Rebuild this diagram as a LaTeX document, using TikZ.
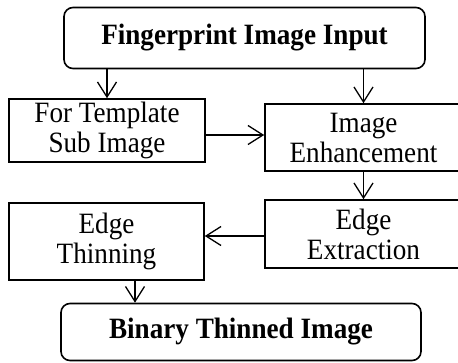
\documentclass[tikz,border=0pt]{standalone}
\usepackage{fontspec}
\setmainfont[FakeStretch=0.92]{Liberation Serif}
\usetikzlibrary{arrows.meta}

\begin{document}
\begin{tikzpicture}[x=1pt, y=-1pt,
    every node/.style={draw, line width=1.6pt, align=center, inner sep=2pt,
        font=\fontsize{29.5}{30}\selectfont},
    endbox/.style={rounded corners=9pt, font=\fontsize{29.5}{30}\selectfont\bfseries},
    flow/.style={-{Straight Barb[length=15pt, width=19pt, line width=1.3pt]}, line width=1.3pt}]
    \useasboundingbox (0,0) rectangle (458,362);
    \clip (0,0) rectangle (458,362);

    \node[endbox, minimum width=361pt, minimum height=61pt] (input) at (244.5, 38) {Fingerprint Image Input};
    \node[minimum width=196pt, minimum height=63pt] (tmpl) at (107, 130.5) {For Template\\Sub Image};
    \node[minimum width=197pt, minimum height=67pt] (enhance) at (363.5, 137.5) {Image\\Enhancement};
    \node[minimum width=197pt, minimum height=68pt] (extract) at (363.5, 234) {Edge\\Extraction};
    \node[minimum width=195pt, minimum height=77pt] (thin) at (106.5, 241.5) {Edge\\Thinning};
    \node[endbox, minimum width=360pt, minimum height=57pt] (binary) at (241, 332) {Binary Thinned Image};

    \draw[flow] (input.south -| tmpl.north) -- (tmpl.north);
    \draw[flow] (input.south -| enhance.north) -- (enhance.north);
    \draw[flow] ([yshift=-4.5pt]tmpl.east) -- ([yshift=-4.5pt]tmpl.east -| enhance.west);
    \draw[flow] (enhance.south) -- (extract.north);
    \draw[flow] ([yshift=-2pt]extract.west) -- ([yshift=-2pt]extract.west -| thin.east); % back to the left
    \draw[flow] ([xshift=28.5pt]thin.south) -- ([xshift=28.5pt]thin.south |- binary.north);
\end{tikzpicture}
\end{document}
